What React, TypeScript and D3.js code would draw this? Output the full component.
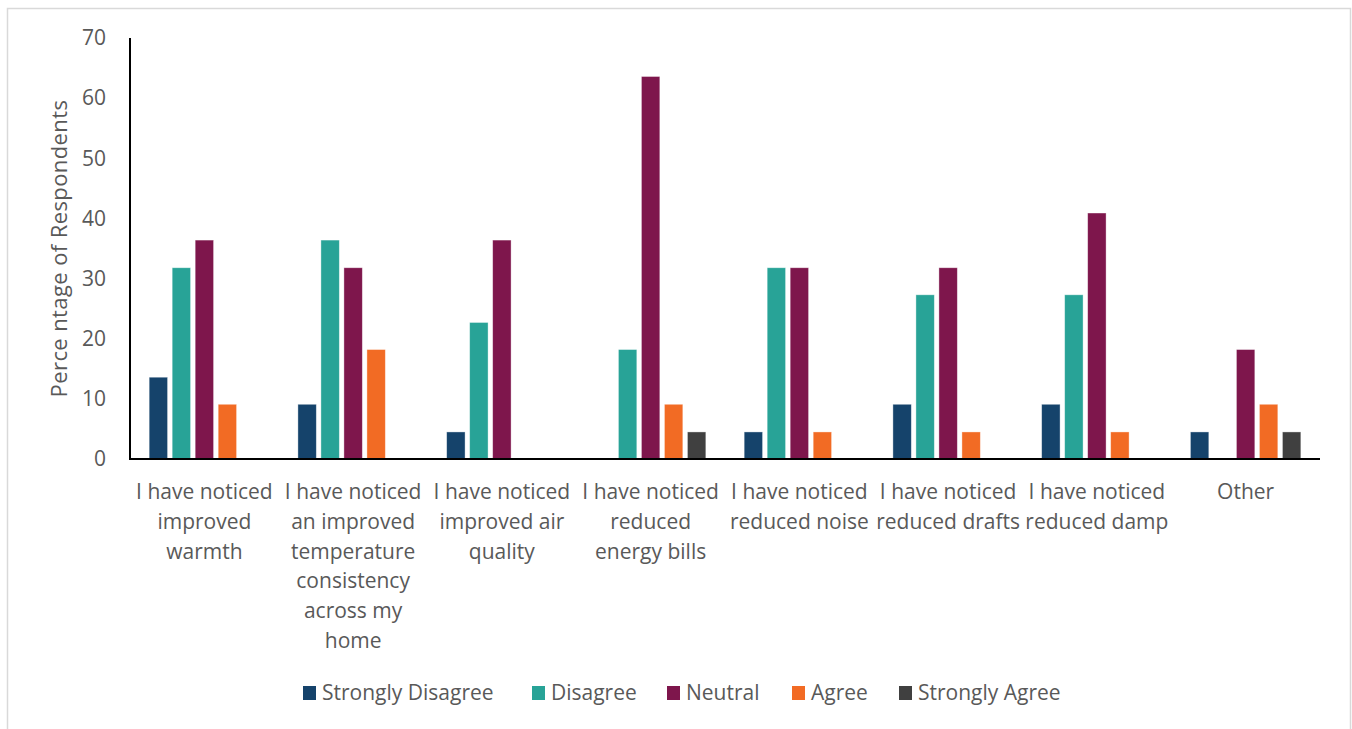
import React from "react";
import * as d3 from "d3";

// Survey responses (percentage of respondents) per statement
const categories = [
  "I have noticed improved warmth",
  "I have noticed an improved temperature consistency across my home",
  "I have noticed improved air quality",
  "I have noticed reduced energy bills",
  "I have noticed reduced noise",
  "I have noticed reduced drafts",
  "I have noticed reduced damp",
  "Other",
];

// Wrapped axis label lines for each category
const categoryLines = [
  ["I have noticed", "improved", "warmth"],
  ["I have noticed", "an improved", "temperature", "consistency", "across my", "home"],
  ["I have noticed", "improved air", "quality"],
  ["I have noticed", "reduced", "energy bills"],
  ["I have noticed", "reduced noise"],
  ["I have noticed", "reduced drafts"],
  ["I have noticed", "reduced damp"],
  ["Other"],
];

const seriesNames = ["Strongly Disagree", "Disagree", "Neutral", "Agree", "Strongly Agree"];
const seriesColors = ["#15436B", "#28A397", "#7E164C", "#F26B24", "#404040"];

const stronglyDisagree = [13.6, 9.1, 4.5, 0, 4.5, 9.1, 9.1, 4.5];
const disagree = [31.8, 36.4, 22.7, 18.2, 31.8, 27.3, 27.3, 0];
const neutral = [36.4, 31.8, 36.4, 63.6, 31.8, 31.8, 40.9, 18.2];
const agree = [9.1, 18.2, 0, 9.1, 4.5, 4.5, 4.5, 9.1];
const stronglyAgree = [0, 0, 0, 4.5, 0, 0, 0, 4.5];

const seriesValues = [stronglyDisagree, disagree, neutral, agree, stronglyAgree];

const yTicks = [0, 10, 20, 30, 40, 50, 60, 70];
const yTitle = "Perce ntage of Respondents";

const W = 1352;
const H = 729;
const FONT = "'Open Sans', 'Noto Sans', sans-serif";
const TEXT = "#595959";

export default function App() {
  const x = d3.scaleBand<string>().domain(categories).range([130, 1320]).padding(0);
  const inner = d3
    .scaleBand<string>()
    .domain(seriesNames)
    .range([0, x.bandwidth()])
    .paddingInner(0.2)
    .paddingOuter(0.833);
  const y = d3.scaleLinear().domain([0, 70]).range([459, 38]);

  // Legend key positions
  const legendX = [303, 532, 667, 792, 899];

  return (
    <svg
      width={W}
      height={H}
      style={{ position: "absolute", left: 0, top: 0, background: "#fff" }}
      fontFamily={FONT}
    >
      <rect x={7.5} y={8.5} width={1343} height={740} fill="#fff" stroke="#D9D9D9" strokeWidth={1.5} />

      {/* bars */}
      {categories.map((c, ci) => (
        <g key={c} transform={`translate(${x(c)},0)`}>
          {seriesNames.map((s, si) => {
            const v = seriesValues[si][ci];
            if (!v) return null;
            return (
              <rect
                key={s}
                x={inner(s)}
                y={y(v)}
                width={inner.bandwidth()}
                height={y(0) - y(v)}
                fill={seriesColors[si]}
                stroke="#fff"
                strokeOpacity={0.5}
                strokeWidth={0.75}
              />
            );
          })}
        </g>
      ))}

      {/* axes */}
      <line x1={130} x2={130} y1={y(70)} y2={y(0)} stroke="#000" strokeWidth={2} />
      <line x1={129} x2={1320} y1={y(0)} y2={y(0)} stroke="#000" strokeWidth={2} />

      {/* y tick labels */}
      {yTicks.map((t) => (
        <text key={t} x={106} y={y(t)} dy="0.35em" textAnchor="end" fontSize={21} fill={TEXT}>
          {t}
        </text>
      ))}

      {/* y title */}
      <text
        transform={`translate(67,${(y(0) + y(70)) / 2}) rotate(-90)`}
        textAnchor="middle"
        fontSize={22}
        letterSpacing={0.4}
        fill={TEXT}
      >
        {yTitle}
      </text>

      {/* category labels */}
      {categories.map((c, ci) => (
        <text key={c} textAnchor="middle" fontSize={21} fill={TEXT}>
          {categoryLines[ci].map((ln, li) => (
            <tspan key={li} x={(x(c) as number) + x.bandwidth() / 2} y={499 + li * 29.8}>
              {ln}
            </tspan>
          ))}
        </text>
      ))}

      {/* legend */}
      {seriesNames.map((s, si) => (
        <g key={s} transform={`translate(${legendX[si]},686)`}>
          <rect width={13} height={14} fill={seriesColors[si]} />
          <text x={19} y={7} dy="0.35em" fontSize={21} fill={TEXT}>
            {s}
          </text>
        </g>
      ))}
    </svg>
  );
}
